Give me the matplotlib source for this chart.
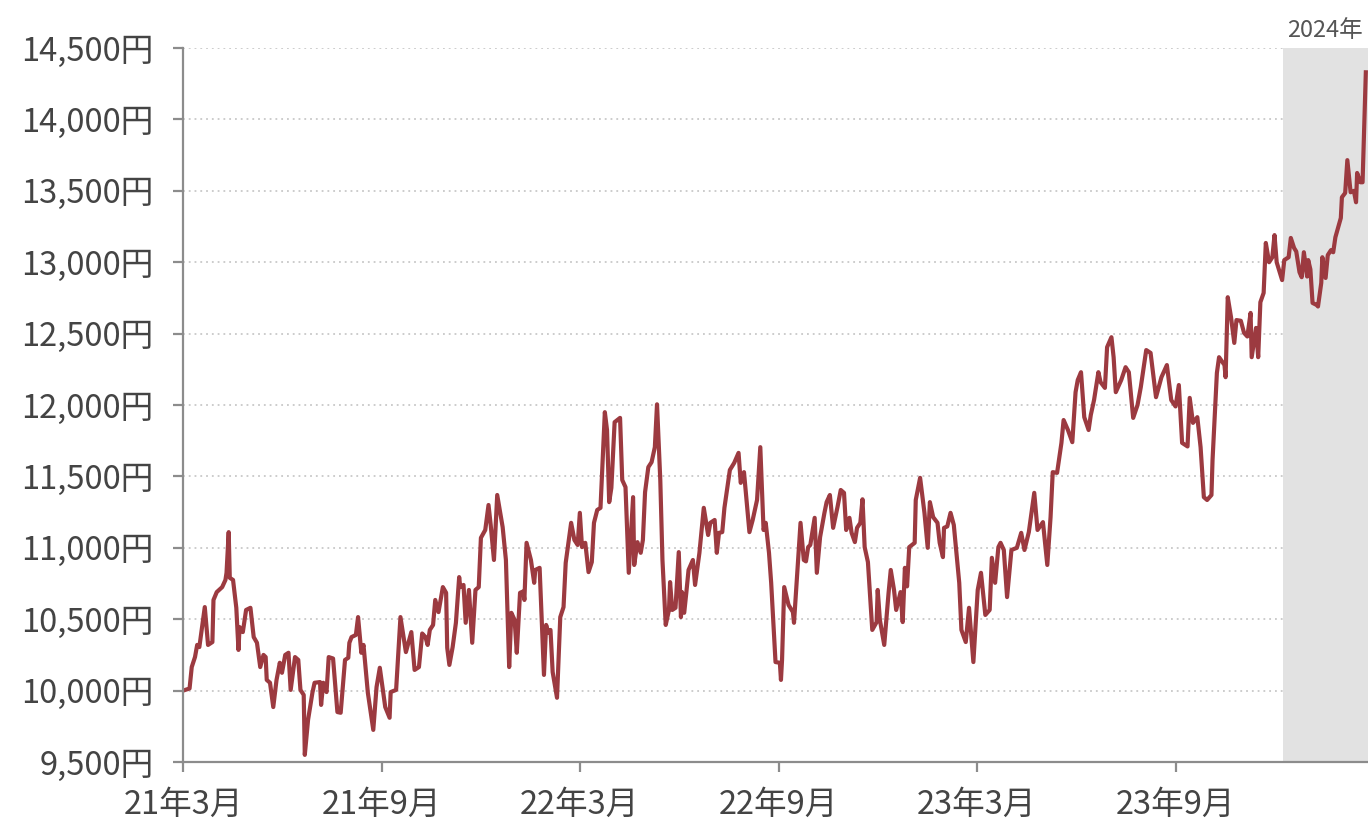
import matplotlib
matplotlib.use("Agg")
import matplotlib.pyplot as plt
import pandas as pd

plt.rcParams['font.family'] = ['Noto Sans CJK JP', 'DejaVu Sans']

# 基準価額の推移 (チャートから読み取り)
dates = [
    "2021-03-31", "2021-04-06", "2021-04-08", "2021-04-11", "2021-04-13", "2021-04-15",
    "2021-04-20", "2021-04-23", "2021-04-27", "2021-04-28", "2021-05-01", "2021-05-06",
    "2021-05-09", "2021-05-10", "2021-05-12", "2021-05-13", "2021-05-16", "2021-05-19",
    "2021-05-21", "2021-05-22", "2021-05-25", "2021-05-28", "2021-06-01", "2021-06-04",
    "2021-06-07", "2021-06-10", "2021-06-13", "2021-06-15", "2021-06-16", "2021-06-19",
    "2021-06-22", "2021-06-25", "2021-06-28", "2021-06-30", "2021-07-03", "2021-07-06",
    "2021-07-08", "2021-07-12", "2021-07-15", "2021-07-17", "2021-07-20", "2021-07-21",
    "2021-07-24", "2021-07-28", "2021-07-30", "2021-08-04", "2021-08-05", "2021-08-07",
    "2021-08-10", "2021-08-12", "2021-08-16", "2021-08-20", "2021-08-23", "2021-08-27",
    "2021-08-30", "2021-08-31", "2021-09-02", "2021-09-06", "2021-09-08", "2021-09-11",
    "2021-09-13", "2021-09-17", "2021-09-22", "2021-09-25", "2021-09-28", "2021-10-03",
    "2021-10-07", "2021-10-08", "2021-10-13", "2021-10-17", "2021-10-22", "2021-10-27",
    "2021-10-30", "2021-11-03", "2021-11-06", "2021-11-09", "2021-11-11", "2021-11-13",
    "2021-11-16", "2021-11-18", "2021-11-21", "2021-11-25", "2021-11-28", "2021-11-29",
    "2021-12-01", "2021-12-04", "2021-12-07", "2021-12-10", "2021-12-11", "2021-12-14",
    "2021-12-16", "2021-12-19", "2021-12-22", "2021-12-25", "2021-12-28", "2021-12-30",
    "2022-01-03", "2022-01-06", "2022-01-08", "2022-01-11", "2022-01-14", "2022-01-19",
    "2022-01-22", "2022-01-25", "2022-01-27", "2022-01-30", "2022-02-01", "2022-02-04",
    "2022-02-07", "2022-02-08", "2022-02-10", "2022-02-14", "2022-02-17", "2022-02-18",
    "2022-02-22", "2022-02-26", "2022-02-28", "2022-03-02", "2022-03-04", "2022-03-06",
    "2022-03-10", "2022-03-13", "2022-03-16", "2022-03-18", "2022-03-23", "2022-03-26",
    "2022-03-29", "2022-03-31", "2022-04-02", "2022-04-05", "2022-04-08", "2022-04-11",
    "2022-04-13", "2022-04-16", "2022-04-19", "2022-04-23", "2022-04-25", "2022-04-27",
    "2022-04-29", "2022-05-02", "2022-05-07", "2022-05-09", "2022-05-12", "2022-05-15",
    "2022-05-19", "2022-05-20", "2022-05-23", "2022-05-26", "2022-05-28", "2022-05-30",
    "2022-06-02", "2022-06-05", "2022-06-08", "2022-06-10", "2022-06-13", "2022-06-15",
    "2022-06-18", "2022-06-21", "2022-06-22", "2022-06-24", "2022-06-27", "2022-06-30",
    "2022-07-02", "2022-07-03", "2022-07-05", "2022-07-07", "2022-07-09", "2022-07-13",
    "2022-07-15", "2022-07-19", "2022-07-23", "2022-07-27", "2022-07-29", "2022-08-02",
    "2022-08-04", "2022-08-06", "2022-08-09", "2022-08-11", "2022-08-16", "2022-08-20",
    "2022-08-24", "2022-08-26", "2022-08-29", "2022-09-03", "2022-09-06", "2022-09-10",
    "2022-09-13", "2022-09-16", "2022-09-18", "2022-09-21", "2022-09-23", "2022-09-27",
    "2022-10-01", "2022-10-02", "2022-10-03", "2022-10-05", "2022-10-09", "2022-10-13",
    "2022-10-14", "2022-10-20", "2022-10-23", "2022-10-25", "2022-10-27", "2022-10-29",
    "2022-11-02", "2022-11-04", "2022-11-07", "2022-11-11", "2022-11-13", "2022-11-16",
    "2022-11-19", "2022-11-23", "2022-11-26", "2022-11-29", "2022-12-01", "2022-12-04",
    "2022-12-06", "2022-12-09", "2022-12-11", "2022-12-14", "2022-12-16", "2022-12-18",
    "2022-12-21", "2022-12-25", "2022-12-29", "2022-12-30", "2023-01-01", "2023-01-05",
    "2023-01-09", "2023-01-11", "2023-01-14", "2023-01-16", "2023-01-20", "2023-01-22",
    "2023-01-24", "2023-01-26", "2023-01-28", "2023-02-02", "2023-02-03", "2023-02-07",
    "2023-02-11", "2023-02-14", "2023-02-16", "2023-02-19", "2023-02-23", "2023-02-25",
    "2023-02-28", "2023-03-01", "2023-03-04", "2023-03-07", "2023-03-10", "2023-03-15",
    "2023-03-17", "2023-03-21", "2023-03-24", "2023-03-28", "2023-04-01", "2023-04-04",
    "2023-04-08", "2023-04-12", "2023-04-14", "2023-04-17", "2023-04-20", "2023-04-22",
    "2023-04-25", "2023-04-28", "2023-05-02", "2023-05-07", "2023-05-11", "2023-05-14",
    "2023-05-18", "2023-05-23", "2023-05-26", "2023-05-31", "2023-06-04", "2023-06-07",
    "2023-06-09", "2023-06-13", "2023-06-17", "2023-06-19", "2023-06-23", "2023-06-27",
    "2023-06-30", "2023-07-02", "2023-07-05", "2023-07-08", "2023-07-12", "2023-07-14",
    "2023-07-17", "2023-07-21", "2023-07-23", "2023-07-27", "2023-07-29", "2023-08-02",
    "2023-08-04", "2023-08-06", "2023-08-11", "2023-08-15", "2023-08-18", "2023-08-22",
    "2023-08-26", "2023-08-29", "2023-09-03", "2023-09-07", "2023-09-12", "2023-09-17",
    "2023-09-22", "2023-09-26", "2023-09-30", "2023-10-03", "2023-10-06", "2023-10-11",
    "2023-10-13", "2023-10-16", "2023-10-20", "2023-10-23", "2023-10-26", "2023-10-29",
    "2023-11-02", "2023-11-03", "2023-11-07", "2023-11-09", "2023-11-14", "2023-11-15",
    "2023-11-17", "2023-11-20", "2023-11-23", "2023-11-25", "2023-11-29", "2023-12-02",
    "2023-12-05", "2023-12-08", "2023-12-09", "2023-12-13", "2023-12-15", "2023-12-17",
    "2023-12-20", "2023-12-22", "2023-12-25", "2023-12-28", "2023-12-30", "2024-01-01",
    "2024-01-06", "2024-01-08", "2024-01-12", "2024-01-14", "2024-01-17", "2024-01-19",
    "2024-01-22", "2024-01-24", "2024-01-26", "2024-01-29", "2024-01-30", "2024-02-01",
    "2024-02-03", "2024-02-07", "2024-02-08", "2024-02-11", "2024-02-12", "2024-02-15",
    "2024-02-17", "2024-02-20", "2024-02-22", "2024-02-24", "2024-02-29", "2024-03-01",
    "2024-03-04", "2024-03-06", "2024-03-09", "2024-03-12", "2024-03-14", "2024-03-15",
    "2024-03-18", "2024-03-20", "2024-03-23",
]
values = [
    10000, 10015, 10165, 10235, 10320, 10305,
    10585, 10320, 10340, 10635, 10690, 10725,
    10775, 10825, 11110, 10790, 10775, 10580,
    10285, 10445, 10410, 10565, 10580, 10375,
    10335, 10165, 10250, 10235, 10075, 10055,
    9885, 10075, 10195, 10125, 10250, 10265,
    10005, 10235, 10215, 10005, 9970, 9550,
    9795, 9985, 10055, 10060, 9900, 10055,
    9990, 10235, 10225, 9850, 9845, 10215,
    10230, 10335, 10375, 10390, 10515, 10265,
    10320, 9985, 9725, 10025, 10160, 9885,
    9810, 9990, 10005, 10515, 10270, 10410,
    10145, 10165, 10400, 10375, 10320, 10425,
    10460, 10635, 10550, 10725, 10685, 10300,
    10180, 10305, 10475, 10795, 10725, 10740,
    10475, 10705, 10335, 10705, 10725, 11070,
    11125, 11300, 11160, 10915, 11370, 11145,
    10915, 10165, 10545, 10495, 10265, 10685,
    10695, 10635, 11035, 10915, 10755, 10845,
    10860, 10110, 10460, 10405, 10425, 10130,
    9950, 10515, 10585, 10895, 11175, 11055,
    11020, 11245, 11005, 11035, 10830, 10900,
    11175, 11265, 11280, 11950, 11825, 11320,
    11420, 11880, 11910, 11475, 11425, 10825,
    11355, 10880, 11040, 10965, 11055, 11390,
    11565, 11600, 11705, 12005, 11475, 10915,
    10460, 10565, 10760, 10565, 10580, 10970,
    10515, 10690, 10545, 10690, 10845, 10915,
    10740, 10965, 11280, 11090, 11175, 11195,
    10965, 11105, 11110, 11280, 11545, 11595,
    11665, 11455, 11530, 11110, 11195, 11335,
    11705, 11125, 11175, 10965, 10755, 10200,
    10195, 10075, 10215, 10725, 10600, 10550,
    10475, 11175, 10915, 10905, 11005, 11020,
    11210, 10825, 11075, 11245, 11320, 11370,
    11140, 11285, 11405, 11385, 11125, 11210,
    11105, 11040, 11140, 11175, 11340, 11005,
    10900, 10425, 10480, 10705, 10495, 10320,
    10685, 10845, 10705, 10565, 10690, 10480,
    10860, 10730, 11005, 11035, 11335, 11490,
    11245, 11000, 11320, 11215, 11175, 11035,
    10935, 11140, 11150, 11245, 11160, 10755,
    10425, 10340, 10580, 10200, 10705, 10825,
    10530, 10565, 10930, 10755, 11005, 11035,
    10985, 10655, 10985, 11000, 11105, 10985,
    11110, 11385, 11125, 11180, 10880, 11215,
    11530, 11525, 11735, 11895, 11825, 11740,
    12090, 12175, 12230, 11915, 11825, 11930,
    12035, 12230, 12160, 12120, 12405, 12475,
    12335, 12090, 12175, 12265, 12230, 11910,
    12000, 12125, 12385, 12365, 12055, 12195,
    12280, 12035, 11990, 12140, 11735, 11710,
    12050, 11875, 11915, 11705, 11355, 11335,
    11370, 11615, 12225, 12335, 12280, 12195,
    12755, 12615, 12435, 12595, 12590, 12505,
    12480, 12645, 12335, 12540, 12335, 12720,
    12785, 13135, 13000, 13035, 13190, 13000,
    12875, 13015, 13035, 13170, 13100, 13075,
    12930, 12895, 13070, 12900, 13015, 12950,
    12715, 12700, 12690, 12855, 13035, 12890,
    13050, 13085, 13070, 13175, 13310, 13455,
    13485, 13715, 13490, 13500, 13420, 13625,
    13560, 13560, 14330,
]

y_ticks = [9500, 10000, 10500, 11000, 11500, 12000, 12500, 13000, 13500, 14000, 14500]
y_labels = [f"{v:,}円" for v in y_ticks]
x_tick_dates = ["2021-03-31", "2021-09-30", "2022-03-31", "2022-09-30", "2023-03-31", "2023-09-30"]
x_labels = ["21年3月", "21年9月", "22年3月", "22年9月", "23年3月", "23年9月"]
shade_start = "2024-01-07"
shade_label = "2024年"

x = pd.to_datetime(dates)
fig = plt.figure(figsize=(13.68, 8.34), dpi=100)
ax = fig.add_axes([0.1338, 0.0863, 0.8662, 0.8561])

line_color = "#9c3a40"
text_color = "#444444"
axis_color = "#8c8c8c"

# 点線のグリッド
for v in y_ticks[1:]:
    ax.axhline(v, color="#c8c8c8", lw=1.3, ls=(0, (1, 2.2)), zorder=0.5)

x_end = pd.Timestamp("2024-03-25")
ax.axvspan(pd.Timestamp(shade_start), x_end, color="#e2e2e2", lw=0, zorder=1)

ax.plot(x, values, color=line_color, lw=3.0, zorder=3, solid_joinstyle="round")

ax.set_xlim(x[0], x_end)
ax.set_ylim(9500, 14500)

ax.set_yticks(y_ticks)
ax.set_yticklabels(y_labels)
ax.set_xticks(pd.to_datetime(x_tick_dates))
ax.set_xticklabels(x_labels)

for s in ["top", "right"]:
    ax.spines[s].set_visible(False)
for s in ["left", "bottom"]:
    ax.spines[s].set_color(axis_color)
    ax.spines[s].set_linewidth(1.6)
    ax.spines[s].set_zorder(4)

ax.tick_params(axis="y", length=7, width=1.6, color=axis_color, pad=14,
               labelsize=23.5, labelcolor=text_color)
ax.tick_params(axis="x", length=7, width=1.6, color=axis_color, pad=12,
               labelsize=23.5, labelcolor=text_color)

ax.text(pd.Timestamp(shade_start) + pd.Timedelta(days=4), 14500 + 40, shade_label,
        ha="left", va="bottom", fontsize=17, color="#555555")

fig.savefig("out.png", dpi=100)
